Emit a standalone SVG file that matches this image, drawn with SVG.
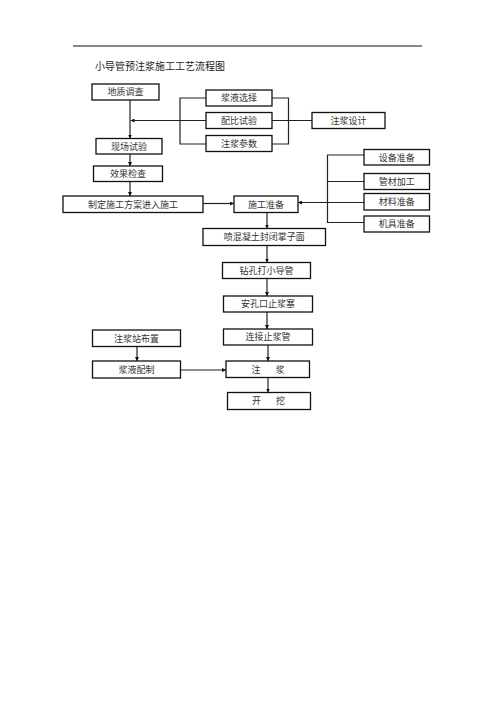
<svg xmlns="http://www.w3.org/2000/svg" width="496" height="702" viewBox="0 0 496 702">
<style>
.b{fill:#fff;stroke:#111;stroke-width:1.3}
.t{font-family:"Noto Sans CJK SC","Noto Sans CJK JP",sans-serif;font-size:9px;fill:#333;text-anchor:middle}
.title{font-family:"Noto Sans CJK SC","Noto Sans CJK JP",sans-serif;font-size:10px;fill:#222}
.c{fill:none;stroke:#222;stroke-width:1.2}
</style>
<defs>
<marker id="a" viewBox="0 0 6 6" refX="6" refY="3" markerWidth="4" markerHeight="4" orient="auto" markerUnits="userSpaceOnUse">
<path d="M0,0L6,3L0,6z" fill="#111"/>
</marker>
</defs>
<rect width="496" height="702" fill="#fff"/>
<line x1="73" y1="46" x2="422" y2="46" stroke="#111" stroke-width="1.2"/>
<text class="title" x="95" y="70">小导管预注浆施工工艺流程图</text>

<g id="connectors">
<path class="c" d="M130,100V138.5" marker-end="url(#a)"/>
<path class="c" d="M206,120.5H130.5" marker-end="url(#a)"/>
<path class="c" d="M206,98H180V144H206"/>
<path class="c" d="M272,98H288.5V144H272"/>
<path class="c" d="M272,120.5H312"/>
<path class="c" d="M130,154V166" marker-end="url(#a)"/>
<path class="c" d="M130,181.5V196" marker-end="url(#a)"/>
<path class="c" d="M203,203.5H234" marker-end="url(#a)"/>
<path class="c" d="M364,202.5H298" marker-end="url(#a)"/>
<path class="c" d="M364,155H327.5V222.5H364"/>
<path class="c" d="M327.5,181.5H364"/>
<path class="c" d="M267,212.5V228.5" marker-end="url(#a)"/>
<path class="c" d="M267,245.5V262.5" marker-end="url(#a)"/>
<path class="c" d="M267,278.5V296" marker-end="url(#a)"/>
<path class="c" d="M267,312V329" marker-end="url(#a)"/>
<path class="c" d="M268,345V361" marker-end="url(#a)"/>
<path class="c" d="M137,346.5V361" marker-end="url(#a)"/>
<path class="c" d="M180.5,370H226" marker-end="url(#a)"/>
<path class="c" d="M268,377.5V392.5" marker-end="url(#a)"/>
</g>

<g id="n1"><rect class="b" x="92" y="84" width="67" height="16"/><text class="t" x="125.5" y="95.2">地质调查</text></g>
<g id="n2"><rect class="b" x="206" y="90" width="66" height="16"/><text class="t" x="239" y="101.2">浆液选择</text></g>
<g id="n3"><rect class="b" x="206" y="112.5" width="66" height="16"/><text class="t" x="239" y="123.7">配比试验</text></g>
<g id="n4"><rect class="b" x="206" y="135.5" width="66" height="16"/><text class="t" x="239" y="146.7">注浆参数</text></g>
<g id="n5"><rect class="b" x="312" y="112.5" width="73" height="16"/><text class="t" x="348.5" y="123.7">注浆设计</text></g>
<g id="n6"><rect class="b" x="96" y="138.5" width="66" height="15.5"/><text class="t" x="129" y="149.5">现场试验</text></g>
<g id="n7"><rect class="b" x="93.5" y="166" width="69" height="15.5"/><text class="t" x="128" y="177">效果检查</text></g>
<g id="n8"><rect class="b" x="63" y="196" width="140" height="16.5"/><text class="t" x="133" y="207.5">制定施工方案进入施工</text></g>
<g id="n9"><rect class="b" x="234" y="196" width="64" height="16.5"/><text class="t" x="266" y="207.5">施工准备</text></g>
<g id="n10"><rect class="b" x="364" y="149.5" width="65.5" height="15.5"/><text class="t" x="396.8" y="160.5">设备准备</text></g>
<g id="n11"><rect class="b" x="364" y="173.5" width="65.5" height="16"/><text class="t" x="396.8" y="184.7">管材加工</text></g>
<g id="n12"><rect class="b" x="364" y="193.5" width="65.5" height="16.5"/><text class="t" x="396.8" y="205">材料准备</text></g>
<g id="n13"><rect class="b" x="364" y="216" width="65.5" height="16"/><text class="t" x="396.8" y="227.2">机具准备</text></g>
<g id="n14"><rect class="b" x="203" y="228.5" width="122.5" height="17"/><text class="t" x="264.3" y="240.2">喷混凝土封闭掌子面</text></g>
<g id="n15"><rect class="b" x="222.5" y="262.5" width="88" height="16"/><text class="t" x="266.5" y="273.7">钻孔打小导管</text></g>
<g id="n16"><rect class="b" x="223.5" y="296" width="89" height="16"/><text class="t" x="268" y="307.2">安孔口止浆塞</text></g>
<g id="n17"><rect class="b" x="223.5" y="329" width="89" height="16"/><text class="t" x="268" y="340.2">连接止浆管</text></g>
<g id="n18"><rect class="b" x="92.5" y="330" width="88" height="16.5"/><text class="t" x="136.5" y="341.5">注浆站布置</text></g>
<g id="n19"><rect class="b" x="92.5" y="361" width="88" height="17"/><text class="t" x="136.5" y="372.7">浆液配制</text></g>
<g id="n20"><rect class="b" x="226" y="361" width="83.5" height="16.5"/><text class="t" y="372.5"><tspan x="256">注</tspan><tspan x="280">浆</tspan></text></g>
<g id="n21"><rect class="b" x="227.5" y="392.5" width="83" height="17"/><text class="t" y="404.2"><tspan x="256.5">开</tspan><tspan x="280.5">挖</tspan></text></g>
</svg>
